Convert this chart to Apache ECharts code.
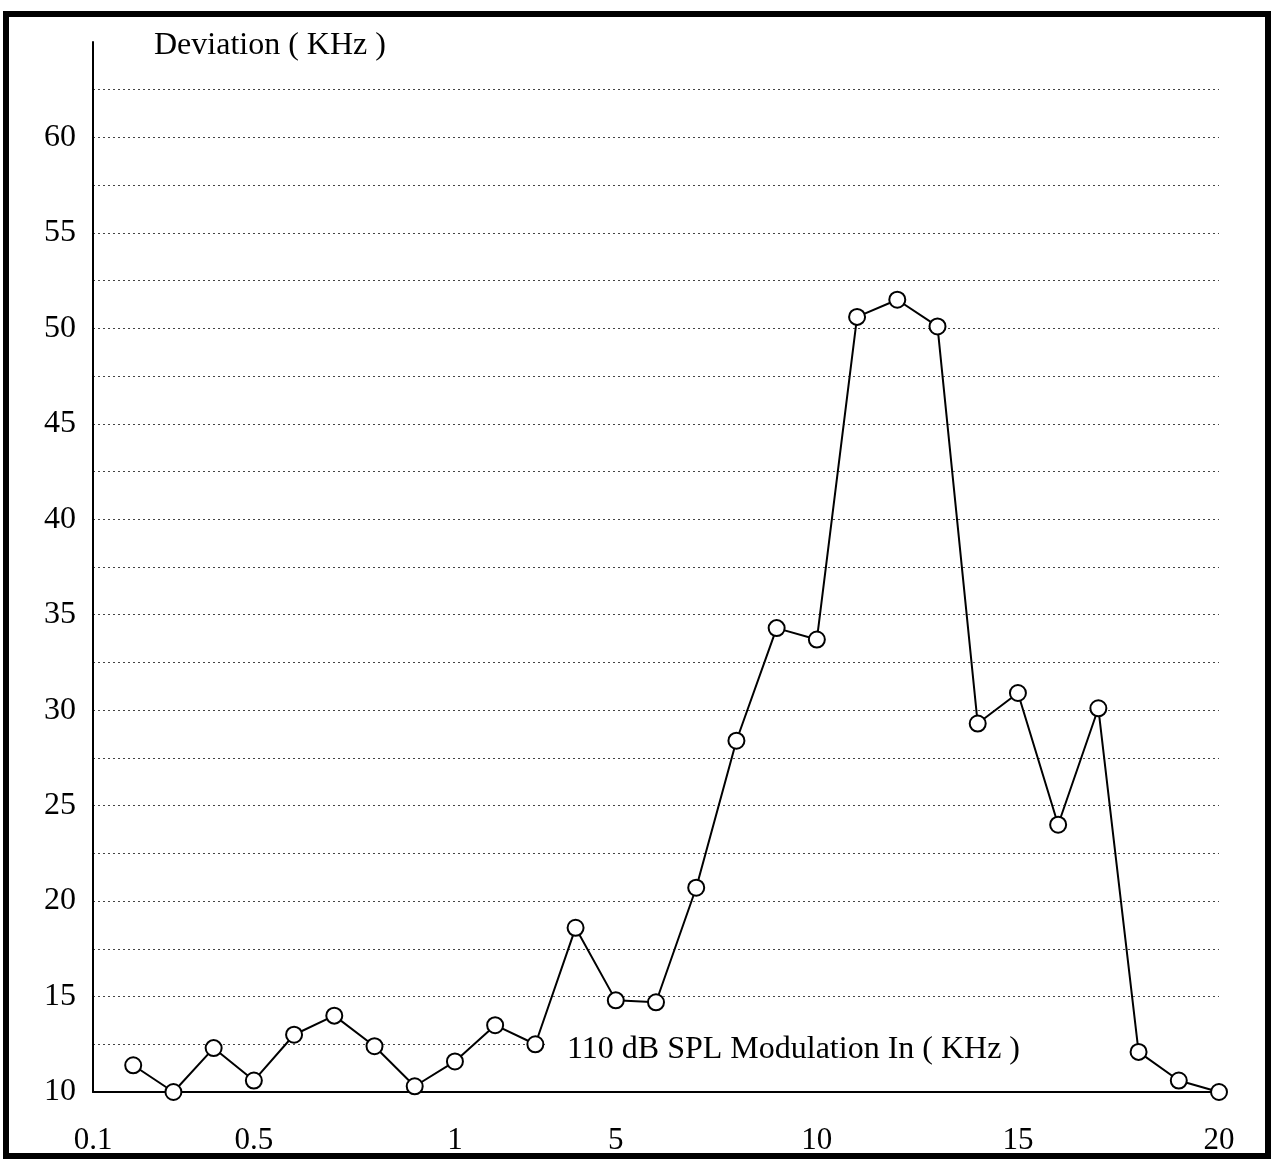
<!DOCTYPE html>
<html>
<head>
<meta charset="utf-8">
<title>Deviation vs Modulation</title>
<script src="https://cdn.jsdelivr.net/npm/echarts@6/dist/echarts.min.js"></script>
<style>
  html, body { margin: 0; padding: 0; background: #fff; }
  #chart { width: 1275px; height: 1161px; }
</style>
</head>
<body>
<div id="chart"></div>
<script>
  // modulation frequency (KHz) - one category per measured point, 0.1 is only the axis origin
  var freqs = ['0.1', '0.2', '0.3', '0.4', '0.5', '0.6', '0.7', '0.8', '0.9', '1',
    '2', '3', '4', '5', '6', '7', '8', '9', '10',
    '11', '12', '13', '14', '15', '16', '17', '18', '19', '20'];
  // deviation (KHz) at 110 dB SPL
  var deviation = [null, 11.4, 10.0, 12.3, 10.6, 13.0, 14.0, 12.4, 10.3, 11.6,
    13.5, 12.5, 18.6, 14.8, 14.7, 20.7, 28.4, 34.3, 33.7,
    50.6, 51.5, 50.1, 29.3, 30.9, 24.0, 30.1, 12.1, 10.6, 10.0];
  // labelled frequencies on the x axis
  var xLabels = ['0.1', '0.5', '1', '5', '10', '15', '20'];

  var serif = "'Liberation Serif', 'Times New Roman', serif";

  var chart = echarts.init(document.getElementById('chart'));
  chart.setOption({
    backgroundColor: '#fff',
    animation: false,
    title: {
      text: 'Deviation ( KHz )',
      left: 149,
      top: 25,
      textStyle: { fontFamily: serif, fontSize: 32, fontWeight: 'normal', color: '#000' }
    },
    grid: { left: 93, right: 56, top: 42, bottom: 69 },
    xAxis: {
      type: 'category',
      data: freqs,
      boundaryGap: false,
      axisLine: { lineStyle: { color: '#000', width: 2 } },
      axisTick: { show: false },
      axisLabel: {
        interval: function (i, v) { return xLabels.indexOf(v) >= 0; },
        margin: 33,
        fontFamily: serif,
        fontSize: 31,
        color: '#000'
      },
      splitLine: { show: false }
    },
    yAxis: {
      type: 'value',
      min: 10,
      max: 65,
      interval: 2.5,
      axisLine: { show: true, lineStyle: { color: '#000', width: 2 } },
      axisTick: { show: false },
      axisLabel: {
        formatter: function (v) { return v % 5 === 0 && v < 65 ? v : ''; },
        margin: 17,
        fontFamily: serif,
        fontSize: 32,
        color: '#000'
      },
      splitLine: {
        show: true,
        showMinLine: false,
        showMaxLine: false,
        lineStyle: { color: '#444', width: 1, type: [2, 3] }
      }
    },
    series: [
      {
        type: 'line',
        data: deviation,
        symbol: 'circle',
        symbolSize: 16,
        z: 3,
        lineStyle: { color: '#000', width: 2 },
        itemStyle: { color: '#fff', borderColor: '#000', borderWidth: 2 }
      }
    ],
    graphic: [
      {
        // the 12.5 grid line stops where the axis caption starts
        type: 'rect',
        z: 1,
        shape: { x: 545, y: 1038, width: 680, height: 14 },
        style: { fill: '#fff' },
        silent: true
      },
      {
        type: 'text',
        z: 2,
        left: 567,
        top: 1034,
        style: {
          text: '110 dB SPL Modulation In ( KHz )',
          font: "32px 'Liberation Serif', 'Times New Roman', serif",
          fill: '#000'
        }
      },
      {
        type: 'rect',
        shape: { x: 6, y: 14, width: 1262, height: 1142 },
        style: { fill: 'none', stroke: '#000', lineWidth: 6 },
        silent: true
      }
    ]
  });
</script>
</body>
</html>
